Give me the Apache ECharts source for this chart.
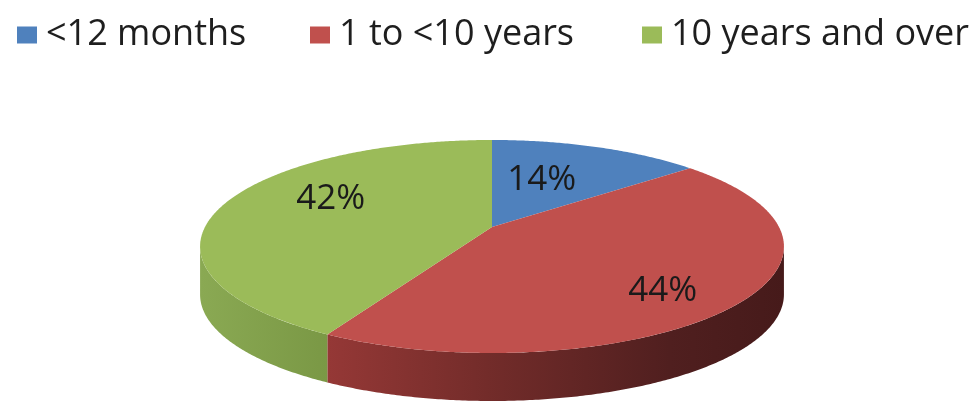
<!DOCTYPE html>
<html>
<head>
<meta charset="utf-8">
<script src="https://cdn.jsdelivr.net/npm/echarts@6/dist/echarts.min.js"></script>
<style>html,body{margin:0;padding:0;background:#fff}#c{width:976px;height:403px}</style>
</head>
<body>
<div id="c"></div>
<script>
// ---- data ----
const categories = ['<12 months', '1 to <10 years', '10 years and over'];
const values = [14, 44, 42];
const labels = ['14%', '44%', '42%'];

// ---- styles / layout ----
const topColors = ['#4F81BD', '#C0504D', '#9BBB59'];
const sideStops = [
  [{offset: 0, color: '#3d5f8a'}, {offset: 1, color: '#2f4a6d'}],
  [{offset: 0, color: '#953836'}, {offset: 0.35, color: '#732c2a'}, {offset: 0.75, color: '#501f1f'}, {offset: 1, color: '#461a1a'}],
  [{offset: 0, color: '#8aa953'}, {offset: 1, color: '#7a9845'}]
];
const legendLeft = [12, 305, 637];
const labelShift = [[-17, 4], [28, 22], [1, -13]];
const FONT = '"Open Sans", "DejaVu Sans", sans-serif';

// perspective projection of the pie disc
const P = {cx: 492, cy: 227, a: 287, d: 61.4, c: -0.183, depth: 48, labelR: 0.6};
function proj(k, deg) {
  const t = deg * Math.PI / 180;
  const u = k * Math.sin(t), v = -k * Math.cos(t);
  const den = 1 + P.c * v;
  return [P.cx + P.a * u / den, (P.d * v + P.cy) / den];
}
// silhouette angles (x extremes)
const silA = Math.acos(P.c) * 180 / Math.PI;          // right side
const silB = 360 - silA;                               // left side

const total = values.reduce((s, v) => s + v, 0);
const starts = [];
values.reduce((acc, v, i) => { starts[i] = acc; return acc + v; }, 0);

function arcPts(a, b) {
  const pts = [];
  const n = Math.max(2, Math.ceil((b - a) / 0.5));
  for (let j = 0; j <= n; j++) pts.push(proj(1, a + (b - a) * j / n));
  return pts;
}

function makeRender(i) {
  return function (params, api) {
    const a0 = starts[i] / total * 360;
    const a1 = a0 + api.value(0) / total * 360;
    const children = [];
    // side wall (only the front-facing part)
    const lo = Math.max(a0, silA), hi = Math.min(a1, silB);
    if (hi > lo) {
      const topArc = arcPts(lo, hi);
      const bottom = topArc.map(p => [p[0], p[1] + P.depth]).reverse();
      children.push({
        type: 'polygon', z2: 1,
        shape: {points: topArc.concat(bottom)},
        style: {fill: new echarts.graphic.LinearGradient(0, 0, 1, 0, sideStops[i])}
      });
    }
    // top face
    const face = [proj(0, a0)].concat(arcPts(a0, a1));
    children.push({
      type: 'polygon', z2: 5,
      shape: {points: face},
      style: {fill: topColors[i]}
    });
    // label
    const lp = proj(P.labelR, (a0 + a1) / 2);
    children.push({
      type: 'text', z2: 10,
      style: {
        text: labels[i], x: lp[0] + labelShift[i][0], y: lp[1] + labelShift[i][1],
        fill: '#1a1a1a', font: '35px ' + FONT, align: 'center', verticalAlign: 'middle'
      }
    });
    return {type: 'group', children: children};
  };
}

const chart = echarts.init(document.getElementById('c'));
chart.setOption({
  animation: false,
  legend: categories.map((name, i) => ({
    data: [name], left: legendLeft[i], top: 12,
    icon: 'rect', itemWidth: 20, itemHeight: 17, selectedMode: false,
    textStyle: {fontFamily: FONT, fontSize: 36, color: '#1e1e1e', padding: [0, 0, 0, 4]}
  })),
  series: categories.map((name, i) => ({
    type: 'custom', name: name, coordinateSystem: 'none', silent: true,
    itemStyle: {color: topColors[i]},
    data: [values[i]],
    renderItem: makeRender(i)
  }))
});
</script>
</body>
</html>
